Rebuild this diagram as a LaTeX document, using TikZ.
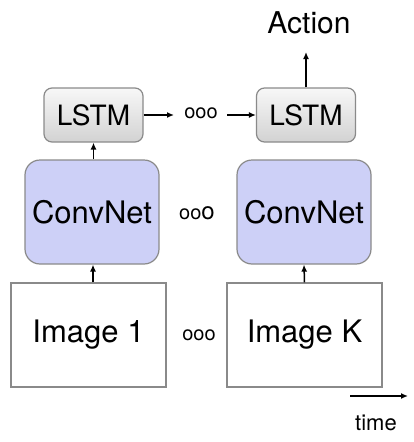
\documentclass[tikz,border=0pt]{standalone}
\usepackage{fontspec}
\setmainfont{TeX Gyre Heros}
\usetikzlibrary{arrows.meta}
\definecolor{convfill}{HTML}{CDD0F7}
\definecolor{boxline}{HTML}{8A8A8A}
\begin{document}
\begin{tikzpicture}[x=1pt,y=-1pt,
  lstmbox/.style={draw=boxline,line width=1.2pt,rounded corners=8pt,top color=gray!6,bottom color=gray!35,minimum width=99pt,minimum height=54pt,font=\fontsize{28}{30}\selectfont,inner sep=0pt},
  convbox/.style={draw=boxline,line width=1.2pt,rounded corners=15pt,fill=convfill,minimum width=134pt,minimum height=104pt,font=\fontsize{31}{33}\selectfont,inner sep=0pt},
  imgbox/.style={draw=boxline,line width=1.2pt,fill=white,minimum width=155pt,minimum height=104pt,font=\fontsize{31}{33}\selectfont,inner sep=0pt},
  dots/.style={font=\fontsize{20}{22}\selectfont,inner sep=0pt},
  arr/.style={-{Latex[length=7pt,width=6pt]},line width=1.5pt}]
\useasboundingbox (0,0) rectangle (414,442);
\node[lstmbox] (l1) at (93.5,115) {LSTM};
\node[lstmbox] (l2) at (306,115) {LSTM};
\node[convbox] (c1) at (92,212) {ConvNet};
\node[convbox] (c2) at (304,212) {ConvNet};
\node[imgbox] (i1) at (88.5,335) {Image 1};
\node[imgbox] (i2) at (304.5,335) {Image K};
\node[font=\fontsize{30}{32}\selectfont,inner sep=0pt] (act) at (309,23) {Action};
\coordinate (acttip) at (306,52);
\node[dots] (d1) at (201,113) {ooo};
\node[dots] (d2) at (197,213) {oo\fontsize{24}{26}\selectfont o};
\node[dots] (d3) at (199,335) {ooo};
\coordinate (t1) at (350,396);
\coordinate (t2) at (408,396);
\node[font=\fontsize{22}{24}\selectfont,inner sep=0pt] (time) at (376,423) {time};
\draw[arr] (l2.north) -- (acttip);
\draw[arr] (l1.east) -- (l1.east -| 174,0);
\draw[arr] (227,115) -- (l2.west);
\draw[arr] (c1.north -| l1.south) -- (l1.south);
\draw[arr] (i1.north -| 93,0) -- (c1.south -| 93,0);
\draw[arr] (i2.north) -- (c2.south);
\draw[arr] (t1) -- (t2);
\end{tikzpicture}
\end{document}
